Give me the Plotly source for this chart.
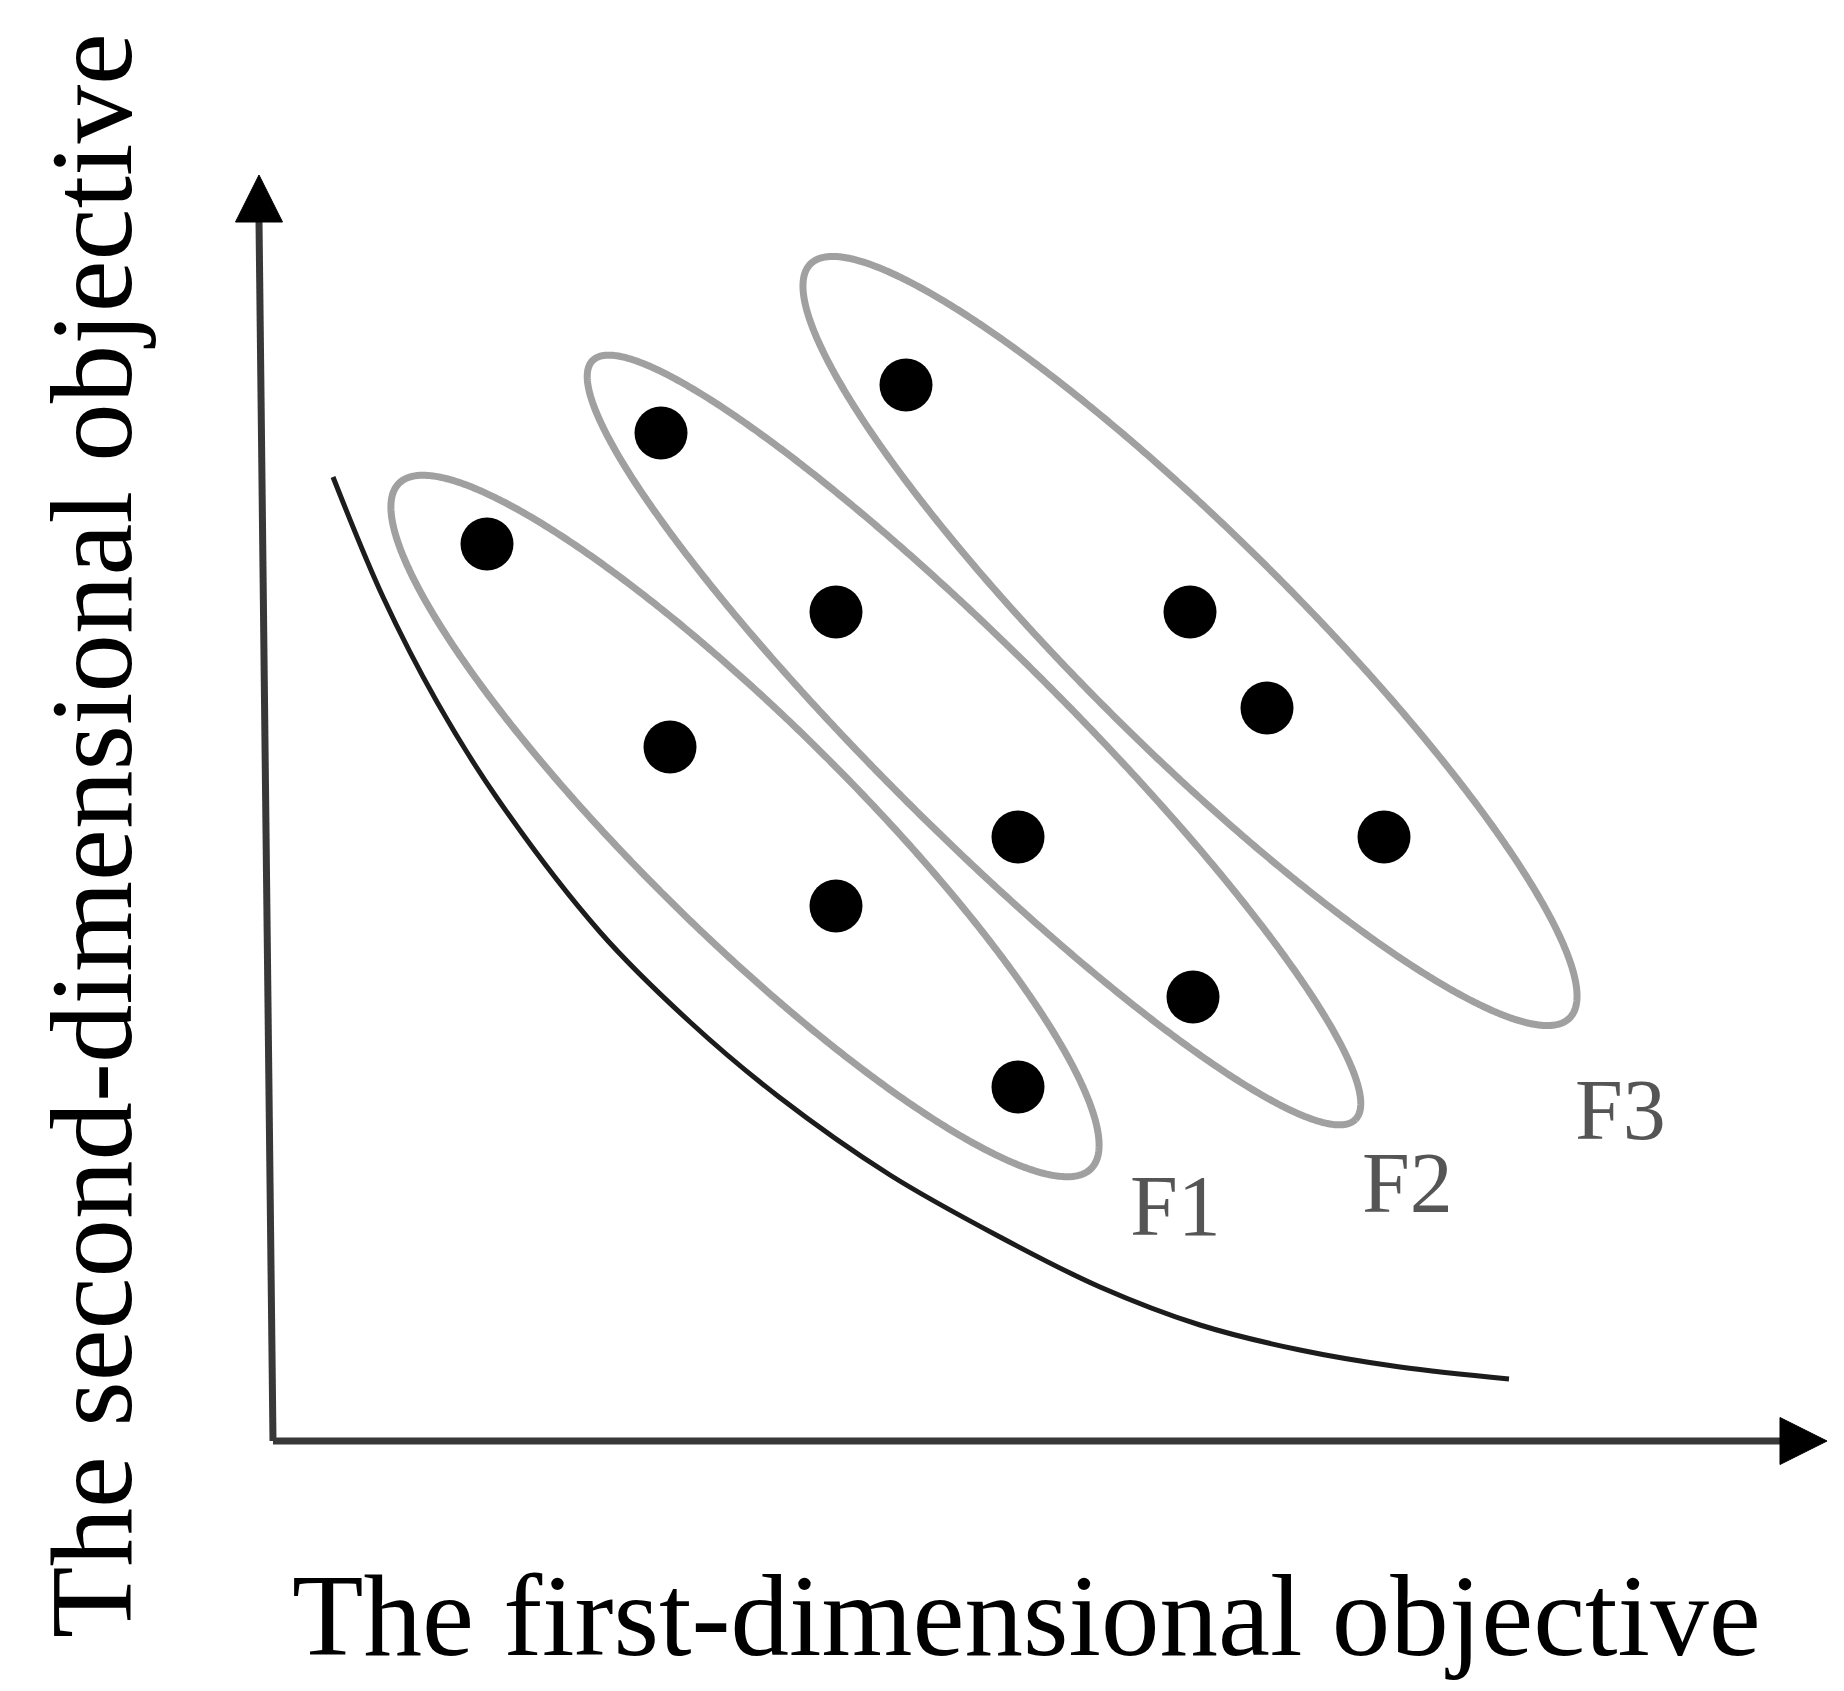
import numpy as np
import plotly.graph_objects as go

# ---------------- data (objective space, arbitrary units) ----------------
front_names = ["F1", "F2", "F3"]

F1_x = [2.14, 3.97, 5.63, 7.45]
F1_y = [8.97, 6.94, 5.35, 3.54]
F2_x = [3.88, 5.63, 7.45, 9.20]
F2_y = [10.08, 8.29, 6.04, 4.44]
F3_x = [6.33, 9.17, 9.94, 11.11]
F3_y = [10.56, 8.29, 7.33, 6.04]

# ellipse enclosing each front: centre, semi-axes, orientation (deg)
ell_cx = [4.72, 7.01, 9.17]
ell_cy = [6.15, 7.01, 8.00]
ell_a = [4.87, 5.38, 5.35]
ell_b = [1.06, 0.91, 1.07]
ell_angle = [-44.7, -44.85, -44.8]

# true Pareto front curve
pf_x = [0.60, 1.10, 1.64, 2.24, 3.27, 4.17, 5.06, 6.17, 7.27, 8.27, 9.27, 10.27, 11.27, 12.36]
pf_y = [9.64, 8.44, 7.39, 6.43, 5.09, 4.19, 3.44, 2.66, 2.04, 1.54, 1.16, 0.91, 0.74, 0.62]

# front label positions
lab_x = [9.02, 11.34, 13.47]
lab_y = [2.35, 2.58, 3.31]

x_title = "The first-dimensional objective"
y_title = "The second-dimensional objective"

# axis extents
x_axis_end = 15.54
y_axis_end = 12.66
y_axis_top_shift = -0.14

# ---------------- figure ----------------
# page body adds an 8px margin, so the figure is 16px smaller than the window
W, H = 1828, 1675
XR = [-2.65, 15.63]
YR = [-2.42, 14.33]
SERIF = "Liberation Serif, Times New Roman, serif"

fig = go.Figure()

# ellipses
t = np.linspace(0, 2 * np.pi, 721)
for cx, cy, a, b, ang in zip(ell_cx, ell_cy, ell_a, ell_b, ell_angle):
    th = np.deg2rad(ang)
    ex = cx + a * np.cos(t) * np.cos(th) - b * np.sin(t) * np.sin(th)
    ey = cy + a * np.cos(t) * np.sin(th) + b * np.sin(t) * np.cos(th)
    fig.add_trace(go.Scatter(x=ex, y=ey, mode="lines",
                             line=dict(color="#a0a0a0", width=7, simplify=False),
                             hoverinfo="skip", showlegend=False))

# Pareto curve
fig.add_trace(go.Scatter(x=pf_x, y=pf_y, mode="lines",
                         line=dict(color="#1c1c1c", width=5, shape="spline", smoothing=1.0,
                                   simplify=False),
                         hoverinfo="skip", showlegend=False))

# points
for xs, ys in [(F1_x, F1_y), (F2_x, F2_y), (F3_x, F3_y)]:
    fig.add_trace(go.Scatter(x=xs, y=ys, mode="markers",
                             marker=dict(color="black", size=53, line=dict(width=0)),
                             hoverinfo="skip", showlegend=False))

# axes with arrowheads
ax_col = "#383838"
head_len = 0.47
head_half = 0.235
fig.add_shape(type="line", x0=0, y0=0, x1=x_axis_end - head_len + 0.02, y1=0,
              line=dict(color=ax_col, width=7))
fig.add_shape(type="line", x0=0, y0=0, x1=y_axis_top_shift, y1=y_axis_end - head_len + 0.02,
              line=dict(color=ax_col, width=7))
fig.add_shape(type="path",
              path=f"M {x_axis_end - head_len},{-head_half} L {x_axis_end},0 L {x_axis_end - head_len},{head_half} Z",
              fillcolor="black", line=dict(color="black", width=1))
fig.add_shape(type="path",
              path=f"M {y_axis_top_shift - head_half},{y_axis_end - head_len} L {y_axis_top_shift},{y_axis_end} "
                   f"L {y_axis_top_shift + head_half},{y_axis_end - head_len} Z",
              fillcolor="black", line=dict(color="black", width=1))

# front labels
for name, lx, ly in zip(front_names, lab_x, lab_y):
    fig.add_annotation(x=lx, y=ly, text=name, showarrow=False,
                       font=dict(family=SERIF, size=86, color="#555555"),
                       xanchor="center", yanchor="middle")

# axis titles
fig.add_annotation(x=7.53, y=-1.74, text=x_title, showarrow=False,
                   font=dict(family=SERIF, size=117, color="black"),
                   xanchor="center", yanchor="middle")
fig.add_annotation(x=-1.82, y=6.05, text=y_title, showarrow=False, textangle=-90,
                   font=dict(family=SERIF, size=117, color="black"),
                   xanchor="center", yanchor="middle")

fig.update_layout(
    width=W, height=H,
    margin=dict(l=0, r=0, t=0, b=0),
    paper_bgcolor="white", plot_bgcolor="white",
    xaxis=dict(range=XR, visible=False, fixedrange=True),
    yaxis=dict(range=YR, visible=False, fixedrange=True),
    hovermode=False,
)

fig.write_html("out.html", config={"displayModeBar": False})
